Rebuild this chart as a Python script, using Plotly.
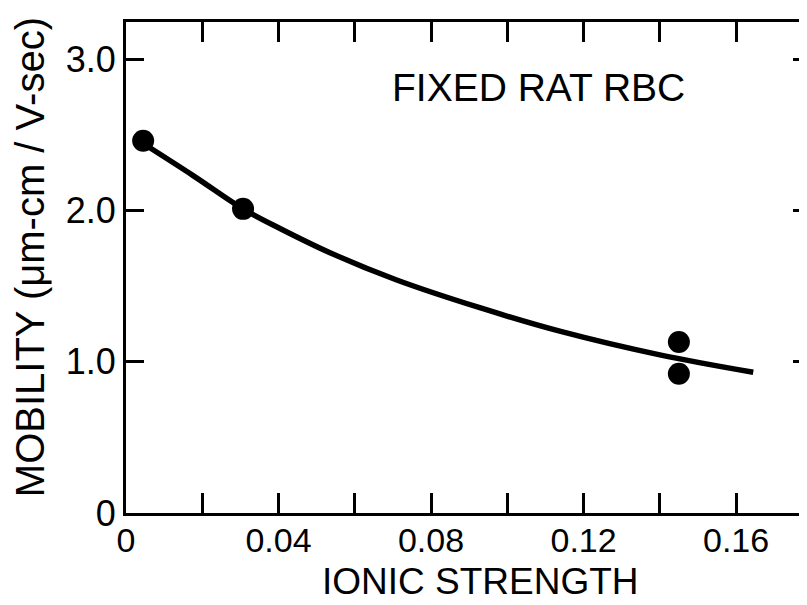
import plotly.graph_objects as go

# Data
pts_x = [0.0045, 0.0307, 0.145, 0.145]
pts_y = [2.46, 2.01, 1.13, 0.92]

curve_x = [0.004, 0.0176, 0.031, 0.0404, 0.0535, 0.071, 0.093, 0.114, 0.140, 0.1645]
curve_y = [2.45, 2.23, 2.005, 1.88, 1.72, 1.54, 1.355, 1.20, 1.045, 0.93]

x_tickvals = [0, 0.02, 0.04, 0.06, 0.08, 0.10, 0.12, 0.14, 0.16]
x_ticktext = ["0", "", "0.04", "", "0.08", "", "0.12", "", "0.16"]
y_tickvals = [0, 1, 2, 3]
y_ticktext = ["0", "1.0", "2.0", "3.0"]

FONT = "Liberation Sans"

fig = go.Figure()
fig.add_trace(go.Scatter(x=curve_x, y=curve_y, mode="lines",
                         line=dict(color="black", width=5.5, shape="spline", smoothing=1.0),
                         showlegend=False, hoverinfo="skip"))
fig.add_trace(go.Scatter(x=pts_x, y=pts_y, mode="markers",
                         marker=dict(color="black", size=22),
                         showlegend=False))
# invisible trace for the right-hand tick axis
fig.add_trace(go.Scatter(x=[0], y=[0], yaxis="y2", mode="markers",
                         marker=dict(opacity=0), showlegend=False, hoverinfo="skip"))

# page body has an 8px default margin, so the figure is made 8px smaller
fig.update_layout(
    width=799, height=597,
    margin=dict(l=118, r=0, t=14, b=92),
    paper_bgcolor="white", plot_bgcolor="white",
    font=dict(family=FONT, color="black"),
    xaxis=dict(range=[0, 0.1786], showgrid=False, zeroline=False,
               showline=True, linecolor="black", linewidth=3, mirror="ticks",
               ticks="inside", ticklen=20, tickwidth=3, tickcolor="black",
               tickvals=x_tickvals, ticktext=x_ticktext,
               tickfont=dict(size=34, family=FONT), ticklabelstandoff=-5,
               automargin=False),
    yaxis=dict(range=[0, 3.245], showgrid=False, zeroline=False,
               showline=True, linecolor="black", linewidth=3, mirror=False,
               ticks="inside", ticklen=18, tickwidth=3, tickcolor="black",
               tickvals=y_tickvals, ticktext=y_ticktext,
               tickfont=dict(size=36, family=FONT), automargin=False),
    yaxis2=dict(range=[0, 3.245], overlaying="y", side="right",
                showgrid=False, zeroline=False, showline=False,
                ticks="inside", ticklen=14, tickwidth=3, tickcolor="black",
                tickvals=[1, 2, 3], showticklabels=False, automargin=False),
    annotations=[
        dict(text="FIXED RAT RBC", x=0.0693, y=2.81, xref="x", yref="y",
             xanchor="left", yanchor="middle", showarrow=False,
             font=dict(size=39, family=FONT)),
        dict(text="IONIC STRENGTH", x=0.52, y=-0.1853, xref="paper", yref="paper",
             xanchor="center", yanchor="bottom", showarrow=False,
             font=dict(size=37, family=FONT)),
        dict(text="MOBILITY (μm-cm / V-sec)", x=-0.141, y=0.521,
             xref="paper", yref="paper", textangle=-90,
             xanchor="center", yanchor="middle", showarrow=False,
             font=dict(size=40, family=FONT)),
    ],
)

fig.write_html("out.html")
